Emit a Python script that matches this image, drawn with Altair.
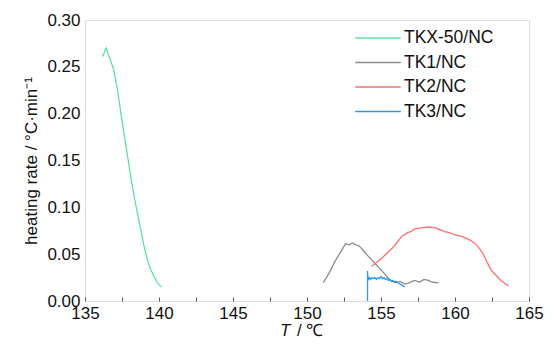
import altair as alt
import pandas as pd

series_names = ["TKX-50/NC", "TK1/NC", "TK2/NC", "TK3/NC"]
series_colors = ["#5fe0a0", "#8c8c8c", "#ff6e6e", "#2a97f0"]

tkx_T = [136.19, 136.43, 136.94, 137.2, 137.43, 137.65, 137.88, 138.1, 138.33, 138.55,
         138.77, 138.97, 139.17, 139.4, 139.67, 139.9, 140.16]
tkx_r = [0.261, 0.270, 0.247, 0.225, 0.200, 0.177, 0.154, 0.132, 0.111, 0.093,
         0.076, 0.060, 0.047, 0.035, 0.026, 0.019, 0.015]

tk1_T = [151.1, 151.5, 151.95, 152.3, 152.6, 152.85, 153.06, 153.3, 153.5, 153.75,
         153.95, 154.3, 154.6, 154.95, 155.3, 155.5, 155.74, 156.0, 156.3, 156.6,
         156.86, 157.1, 157.3, 157.6, 157.9, 158.2, 158.5, 158.87]
tk1_r = [0.0195, 0.030, 0.044, 0.053, 0.061, 0.060, 0.062, 0.060, 0.059, 0.055,
         0.051, 0.045, 0.040, 0.034, 0.028, 0.024, 0.021, 0.020, 0.021, 0.018,
         0.019, 0.021, 0.022, 0.020, 0.023, 0.022, 0.020, 0.0195]

tk2_T = [154.36, 154.7, 155.07, 155.4, 155.74, 156.1, 156.41, 156.8, 157.0, 157.3,
         157.7, 158.2, 158.7, 159.0, 159.3, 159.6, 159.9, 160.43, 160.9, 161.32,
         161.6, 161.88, 162.15, 162.44, 162.8, 163.1, 163.6]
tk2_r = [0.037, 0.041, 0.046, 0.051, 0.056, 0.063, 0.069, 0.073, 0.074, 0.077,
         0.078, 0.079, 0.078, 0.076, 0.074, 0.073, 0.071, 0.069, 0.066, 0.062,
         0.057, 0.051, 0.042, 0.033, 0.027, 0.022, 0.016]

tk3_T = [154.09, 154.09, 154.12, 154.2, 154.3, 154.4, 154.5, 154.6, 154.7, 154.8,
         154.9, 155.0, 155.1, 155.2, 155.3, 155.4, 155.5, 155.6, 155.7, 155.8,
         155.9, 156.0, 156.2, 156.4, 156.6]
tk3_r = [0.0, 0.032, 0.022, 0.025, 0.023, 0.025, 0.024, 0.025, 0.023, 0.025,
         0.024, 0.026, 0.024, 0.025, 0.023, 0.024, 0.022, 0.023, 0.021, 0.022,
         0.020, 0.021, 0.019, 0.017, 0.015]

x_ticks = [135, 137.5, 140, 142.5, 145, 147.5, 150, 152.5, 155, 157.5, 160, 162.5, 165]
y_labels = [0.0, 0.05, 0.10, 0.15, 0.20, 0.25, 0.30]

rows = []
for name, Ts, rs in zip(series_names, [tkx_T, tk1_T, tk2_T, tk3_T], [tkx_r, tk1_r, tk2_r, tk3_r]):
    for i, (t, r) in enumerate(zip(Ts, rs)):
        rows.append({"series": name, "T": t, "rate": r, "idx": i})
df = pd.DataFrame(rows)

W, H = 444, 281
FONT = "Liberation Sans"
TICK = 4

x_scale = alt.Scale(domain=[135, 165], nice=False, zero=False)
y_scale = alt.Scale(domain=[0, 0.30], nice=False)

lines = alt.Chart(df).mark_line(strokeWidth=1.3, clip=True).encode(
    x=alt.X("T:Q", scale=x_scale,
            axis=alt.Axis(values=x_ticks, title=None, ticks=True, tickSize=TICK,
                          tickColor="#555", tickWidth=1, offset=-TICK,
                          domain=False, grid=False,
                          labelExpr="datum.value % 5 == 0 ? datum.label : ''",
                          labelFontSize=17, labelPadding=4, labelColor="#111", labelFont=FONT,
                          labelFlush=False, labelOverlap=False)),
    y=alt.Y("rate:Q", scale=y_scale,
            axis=alt.Axis(values=y_labels, format=".2f", title="heating rate / °C·min⁻¹",
                          ticks=False, domain=False, grid=False, labelFontSize=17,
                          labelPadding=5, labelColor="#111", labelFont=FONT, labelFlush=False,
                          titleFontSize=17, titleFontWeight="normal", titleFont=FONT,
                          titleColor="#111", titlePadding=6)),
    color=alt.Color("series:N", scale=alt.Scale(domain=series_names, range=series_colors),
                    sort=series_names,
                    legend=alt.Legend(title=None, orient="none", legendX=280, legendY=5,
                                      symbolType="M-1.9,0H1.9", symbolSize=576,
                                      symbolStrokeWidth=1.5,
                                      labelFontSize=17.5, labelFont=FONT, labelColor="#111",
                                      rowPadding=2.5, labelOffset=13)),
    order="idx:Q",
)

title_T = alt.Chart(pd.DataFrame({"t": ["T"]})).mark_text(
    fontSize=17, fontStyle="italic", font=FONT, align="left", baseline="middle", color="#111"
).encode(text="t:N", x=alt.value(195), y=alt.value(H + 30))

title_rest = alt.Chart(pd.DataFrame({"t": ["/ ℃"]})).mark_text(
    fontSize=17, font=FONT, align="left", baseline="middle", color="#111"
).encode(text="t:N", x=alt.value(212), y=alt.value(H + 30))

chart = alt.layer(lines, title_T, title_rest).properties(
    width=W, height=H,
    autosize=alt.AutoSizeParams(type="none"),
    padding={"left": 77, "top": 12, "right": 16, "bottom": 40},
).configure_view(stroke="#555", strokeWidth=1.5).configure(background="white")

chart.save("out.html", embed_options={"renderer": "svg", "actions": False})
